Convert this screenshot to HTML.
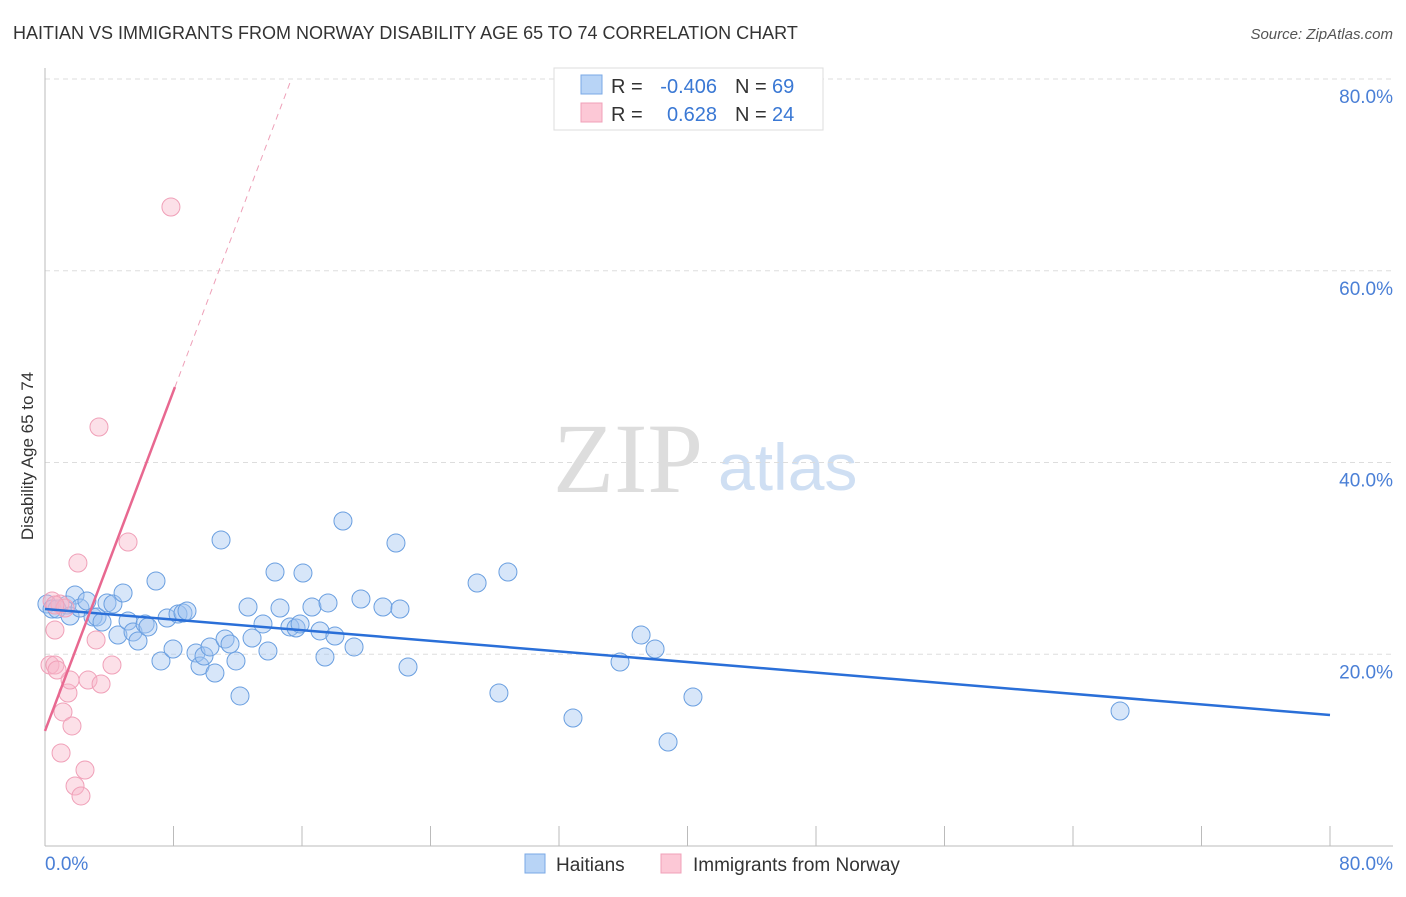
<!DOCTYPE html>
<html><head><meta charset="utf-8"><style>
body{margin:0;background:#fff;font-family:"Liberation Sans",sans-serif}
</style></head><body>
<svg width="1406" height="892" xmlns="http://www.w3.org/2000/svg" font-family="Liberation Sans, sans-serif">
<text x="13" y="39" font-size="18" fill="#333">HAITIAN VS IMMIGRANTS FROM NORWAY DISABILITY AGE 65 TO 74 CORRELATION CHART</text>
<text x="1393" y="39" font-size="15" fill="#555" text-anchor="end" font-style="italic">Source: ZipAtlas.com</text>
<text x="553" y="492" font-size="100" font-family="Liberation Serif, serif" fill="#ddd">ZIP</text>
<text x="718" y="490" font-size="66" fill="#cfdff3">atlas</text>
<g id="grid"></g>
<g id="axes"></g>
<g id="pts"></g>
<g id="trend"></g>
<text transform="translate(33,456) rotate(-90)" font-size="17" fill="#333" text-anchor="middle">Disability Age 65 to 74</text>
<g font-size="20">
<rect x="554" y="68" width="269" height="62" fill="#fff" stroke="#ddd"/>
<rect x="581" y="75" width="21" height="19" fill="#b8d4f6" stroke="#7aa8e6"/>
<rect x="581" y="103" width="21" height="19" fill="#fcc8d6" stroke="#f0a0b8"/>
<text x="611" y="93" fill="#333">R =</text>
<text x="717" y="93" fill="#3a78d4" text-anchor="end">-0.406</text>
<text x="735" y="93" fill="#333">N =</text>
<text x="772" y="93" fill="#3a78d4">69</text>
<text x="611" y="121" fill="#333">R =</text>
<text x="717" y="121" fill="#3a78d4" text-anchor="end">0.628</text>
<text x="735" y="121" fill="#333">N =</text>
<text x="772" y="121" fill="#3a78d4">24</text>
</g>
<g>
<rect x="525" y="854" width="20" height="19" fill="#b8d4f6" stroke="#7aa8e6"/>
<text x="556" y="871" font-size="19" fill="#333">Haitians</text>
<rect x="661" y="854" width="20" height="19" fill="#fcc8d6" stroke="#f0a0b8"/>
<text x="693" y="871" font-size="19" fill="#333">Immigrants from Norway</text>
</g>
</svg>
<script>
const NS="http://www.w3.org/2000/svg";
const xTicks=[0,8,16,24,32,40,48,56,64,72,80];
const yTicks=[20,40,60,80];
const yTickLabels=["20.0%","40.0%","60.0%","80.0%"];
const haitianX=[0.12,0.44,0.75,1.37,1.56,1.87,2.18,2.61,2.99,3.24,3.55,3.86,4.23,4.54,4.86,5.17,5.48,5.79,6.23,6.41,6.91,7.22,7.60,7.97,8.28,8.59,8.84,9.40,9.65,9.90,10.27,10.58,10.96,11.21,11.52,11.89,12.14,12.64,12.89,13.57,13.88,14.32,14.63,15.25,15.63,15.88,16.06,16.62,17.12,17.43,17.62,18.05,18.55,19.24,19.67,21.04,21.85,22.10,22.60,26.90,28.26,28.82,32.87,35.80,37.11,37.98,38.79,40.34,66.93];
const haitianY=[25.24,24.72,24.72,25.14,23.99,26.18,24.82,25.55,23.89,23.89,23.36,25.35,25.24,22.01,26.39,23.47,22.32,21.38,23.16,22.84,27.64,19.30,23.78,20.55,24.20,24.30,24.51,20.13,18.77,19.82,20.76,18.04,31.92,21.59,21.07,19.30,15.65,24.93,21.69,23.16,20.34,28.58,24.82,22.84,22.74,23.16,28.47,24.93,22.43,19.71,25.35,21.90,33.90,20.76,25.76,24.93,31.60,24.72,18.67,27.43,15.96,28.58,13.35,19.19,22.01,20.55,10.85,15.54,14.08];
const norwayX=[0.44,0.62,0.31,0.62,0.75,0.93,1.25,1.12,1.43,1.56,1.68,1.00,1.87,2.24,2.49,2.05,2.68,3.18,3.49,3.36,4.17,5.17,7.84,0.62];
const norwayY=[25.55,22.53,18.88,18.88,18.36,25.24,24.82,13.98,15.96,17.31,12.52,9.70,6.26,5.22,7.93,29.52,17.31,21.49,16.90,43.70,18.88,31.71,66.65,25.14];
const blueTrend=[24.72,13.66];
const pinkIntercept=12.0, pinkSlope=4.433, pinkSolidEnd=8.09, pinkDashEnd=15.34;
const X=v=>45+v*1285/80, Y=v=>846-v*767/80;
function mk(t,a,p){const e=document.createElementNS(NS,t);for(const k in a)e.setAttribute(k,a[k]);p.appendChild(e);return e;}
const grid=document.getElementById('grid'),axes=document.getElementById('axes'),pts=document.getElementById('pts'),tr=document.getElementById('trend');
yTicks.forEach((v,i)=>{
 const l=mk('line',{x1:45,x2:1393,y1:Y(v),y2:Y(v),stroke:'#ddd','stroke-dasharray':'5,4'},grid);
 
 
 const t=mk('text',{x:1393,y:Y(v)+24,'font-size':19,fill:'#4a7fd6','text-anchor':'end'},grid);
 t.textContent=yTickLabels[i];
 
 
});
const ax=mk('line',{x1:45,x2:1393,y1:846,y2:846,stroke:'#bbb'},axes);


const ay=mk('line',{x1:45,x2:45,y1:68,y2:846,stroke:'#bbb'},axes);


xTicks.forEach(v=>{
 const l=mk('line',{x1:X(v),x2:X(v),y1:826,y2:846,stroke:'#bbb'},axes);
 
 
});
const xl0=mk('text',{x:45,y:870,'font-size':19,fill:'#4a7fd6'},axes);xl0.textContent='0.0%';


const xl1=mk('text',{x:1393,y:870,'font-size':19,fill:'#4a7fd6','text-anchor':'end'},axes);xl1.textContent='80.0%';


haitianX.forEach((x,i)=>{
 const c=mk('circle',{cx:X(x),cy:Y(haitianY[i]),r:9,fill:'rgba(160,196,240,0.42)',stroke:'#6a9fe0','stroke-width':1},pts);
 
 
});
norwayX.forEach((x,i)=>{
 const c=mk('circle',{cx:X(x),cy:Y(norwayY[i]),r:9,fill:'rgba(248,180,200,0.42)',stroke:'#f0a0b8','stroke-width':1},pts);
 
 
});
const bl=mk('line',{x1:X(0),y1:Y(blueTrend[0]),x2:X(80),y2:Y(blueTrend[1]),stroke:'#2a6fd8','stroke-width':2.5},tr);


const ps=mk('line',{x1:X(0),y1:Y(pinkIntercept),x2:X(pinkSolidEnd),y2:Y(pinkIntercept+pinkSlope*pinkSolidEnd),stroke:'#e86890','stroke-width':2.5},tr);


const pd=mk('line',{x1:X(pinkSolidEnd),y1:Y(pinkIntercept+pinkSlope*pinkSolidEnd),x2:X(pinkDashEnd),y2:Y(pinkIntercept+pinkSlope*pinkDashEnd),stroke:'#eea0b8','stroke-width':1,'stroke-dasharray':'6,5'},tr);


</script>
</body></html>
